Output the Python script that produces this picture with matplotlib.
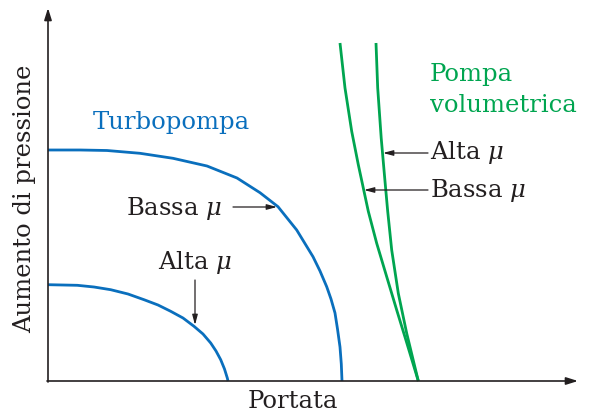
import matplotlib.pyplot as plt

# curve points (portata, aumento di pressione), arbitrary units
turbo_bassa_x = [0, 1.5, 3.2, 5.9, 9.2, 12.5, 15.9, 18.9, 21.2, 23.0, 24.87, 26.5, 27.2,
                 27.87, 28.3, 28.7, 28.95, 29.2, 29.33, 29.4]
turbo_bassa_y = [23.1, 23.1, 23.1, 23.05, 22.77, 22.27, 21.5, 20.3, 18.83, 17.43, 15.1, 12.43, 11.0,
                 9.43, 8.2, 6.8, 5.2, 3.4, 1.7, 0]

turbo_alta_x = [0, 2.93, 4.6, 6.27, 8.0, 9.6, 11.0, 12.27, 13.5, 14.6, 15.5, 16.27, 16.8,
                17.27, 17.65, 17.93, 18.0]
turbo_alta_y = [9.63, 9.57, 9.4, 9.13, 8.7, 8.13, 7.6, 6.97, 6.3, 5.47, 4.7, 3.8, 3.0,
                2.13, 1.2, 0.3, 0]

vol_bassa_x = [29.2, 29.7, 30.37, 31.03, 32.03, 32.87, 33.87, 34.87, 35.79, 37.03]
vol_bassa_y = [33.8, 29.3, 24.97, 21.63, 16.97, 13.77, 10.43, 7.1, 4.1, 0]

vol_alta_x = [32.8, 32.97, 33.32, 33.7, 33.97, 34.37, 35.03, 35.87, 37.03]
vol_alta_y = [33.8, 29.3, 24.3, 19.97, 16.97, 13.1, 8.77, 4.77, 0]

blue = '#0a6fbd'
green = '#00a550'
ink = '#231f20'

plt.rcParams['font.family'] = ['DejaVu Serif']
plt.rcParams['mathtext.fontset'] = 'dejavuserif'

fig = plt.figure(figsize=(5.89, 4.13), dpi=100)
ax = fig.add_axes([48 / 589, 32 / 413, 530 / 589, 373 / 413])
ax.set_xlim(0, 53)
ax.set_ylim(0, 37.3)
ax.set_axis_off()

curve_style = dict(lw=2.0, solid_capstyle='butt', solid_joinstyle='round', clip_on=False)
ax.plot(turbo_bassa_x, turbo_bassa_y, color=blue, **curve_style)
ax.plot(turbo_alta_x, turbo_alta_y, color=blue, **curve_style)
ax.plot(vol_bassa_x, vol_bassa_y, color=green, **curve_style)
ax.plot(vol_alta_x, vol_alta_y, color=green, **curve_style)

# axes with arrow heads
axis_arrow = dict(arrowstyle='-|>,head_length=0.7,head_width=0.22', color=ink, lw=1.2,
                  shrinkA=0, shrinkB=0)
ax.annotate('', xy=(53, 0), xytext=(-0.1, 0), arrowprops=axis_arrow, annotation_clip=False)
ax.annotate('', xy=(0, 37.3), xytext=(0, -0.1), arrowprops=axis_arrow, annotation_clip=False)

fs = 17.5
ax.text(24.45, -2.0, 'Portata', ha='center', va='center', fontsize=fs, color=ink, clip_on=False)
ax.text(-2.3, 18.2, 'Aumento di pressione', ha='center', va='center', rotation=90,
        fontsize=fs, color=ink, clip_on=False)

ax.text(4.5, 25.8, 'Turbopompa', ha='left', va='center', fontsize=fs, color=blue)
ax.text(38.2, 30.6, 'Pompa', ha='left', va='center', fontsize=fs, color=green)
ax.text(38.2, 27.6, 'volumetrica', ha='left', va='center', fontsize=fs, color=green)

label_arrow = dict(arrowstyle='-|>,head_length=0.6,head_width=0.16', color=ink, lw=0.9,
                   shrinkA=0, shrinkB=0)
ax.annotate('', xy=(33.5, 22.8), xytext=(38.0, 22.8), arrowprops=label_arrow)
ax.text(38.2, 22.8, r'Alta $\mu$', ha='left', va='center', fontsize=fs, color=ink)
ax.annotate('', xy=(31.6, 19.1), xytext=(38.0, 19.1), arrowprops=label_arrow)
ax.text(38.2, 19.1, r'Bassa $\mu$', ha='left', va='center', fontsize=fs, color=ink)

ax.annotate('', xy=(22.9, 17.4), xytext=(18.5, 17.4), arrowprops=label_arrow)
ax.text(17.4, 17.3, r'Bassa $\mu$', ha='right', va='center', fontsize=fs, color=ink)
ax.annotate('', xy=(14.7, 5.6), xytext=(14.7, 10.1), arrowprops=label_arrow)
ax.text(14.7, 11.8, r'Alta $\mu$', ha='center', va='center', fontsize=fs, color=ink)

fig.savefig('out.png', dpi=100)
